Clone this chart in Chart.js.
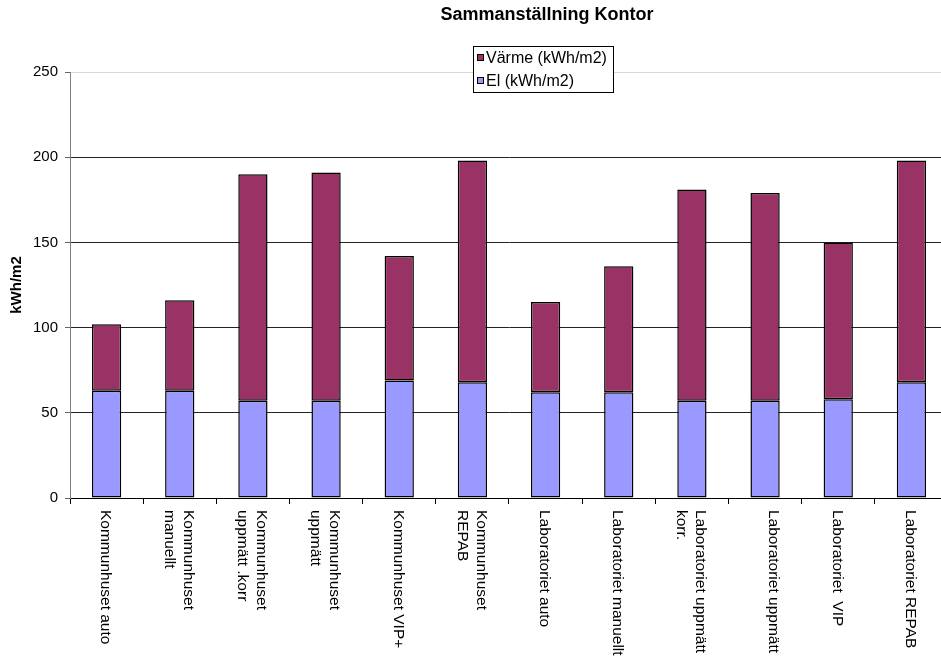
<!DOCTYPE html>
<html lang="sv">
<head>
  <meta charset="UTF-8" />
  <title>Sammanställning Kontor</title>
  <script src="https://cdn.jsdelivr.net/npm/chart.js"></script>
  <style>
    html, body {
      margin: 0;
      padding: 0;
      background: #fff;
      overflow: hidden;
    }
    #chart {
      display: block;
    }
  </style>
</head>
<body>
  <canvas id="chart" width="948" height="657"></canvas>

  <script>
    // category labels, one array entry per line of the wrapped label
    const categories = [
      ["Kommunhuset auto"],
      ["Kommunhuset", "manuellt"],
      ["Kommunhuset", "uppmätt .korr"],
      ["Kommunhuset", "uppmätt"],
      ["Kommunhuset VIP+"],
      ["Kommunhuset", "REPAB"],
      ["Laboratoriet auto"],
      ["Laboratoriet manuellt"],
      ["Laboratoriet uppmätt", "korr."],
      ["Laboratoriet uppmätt", " "],
      ["Laboratoriet  VIP"],
      ["Laboratoriet REPAB"]
    ];

    const elValues    = [63, 63, 57, 57, 69, 68, 62, 62, 57, 57, 58, 68];
    const varmeValues = [39, 53, 133, 134, 73, 130, 53, 74, 124, 122, 92, 130];

    const yTicks = [0, 50, 100, 150, 200, 250];

    const FONT = "'Liberation Sans', Arial, sans-serif";

    // title, boxed legend and the rotated category labels
    const decorations = {
      id: "decorations",
      afterDraw(chart) {
        const ctx = chart.ctx;
        const x = chart.scales.x;
        ctx.save();

        ctx.fillStyle = "#000";
        ctx.font = "bold 18px " + FONT;
        ctx.textAlign = "center";
        ctx.textBaseline = "middle";
        ctx.fillText("Sammanställning Kontor", 547, 15);

        // legend box
        ctx.fillStyle = "#fff";
        ctx.fillRect(473, 46, 141, 46);
        ctx.strokeStyle = "#000";
        ctx.lineWidth = 1;
        ctx.strokeRect(473.5, 46.5, 140, 46);

        const items = chart.data.datasets.slice().reverse();
        ctx.font = "16px " + FONT;
        ctx.textAlign = "left";
        items.forEach((ds, i) => {
          const cy = 58 + i * 23;
          ctx.fillStyle = ds.backgroundColor;
          ctx.fillRect(477, cy - 4, 7, 7);
          ctx.strokeStyle = "#000";
          ctx.strokeRect(477.5, cy - 3.5, 6, 6);
          ctx.fillStyle = "#000";
          ctx.fillText(ds.label, 486, cy + 1);
        });

        // x labels read top to bottom
        ctx.font = "15.5px " + FONT;
        ctx.textBaseline = "middle";
        categories.forEach((lines, i) => {
          const cx = x.getPixelForValue(i) - 1;
          ctx.save();
          ctx.translate(cx, 510);
          ctx.rotate(Math.PI / 2);
          lines.forEach((line, k) => {
            ctx.fillText(line, 0, (k - (lines.length - 1) / 2) * 19);
          });
          ctx.restore();
        });

        ctx.restore();
      }
    };

    new Chart(document.getElementById("chart"), {
      type: "bar",
      data: {
        labels: categories.map(l => l.join(" ")),
        datasets: [
          {
            label: "El (kWh/m2)",
            data: elValues,
            backgroundColor: "#9999FF",
            borderColor: "#000",
            borderWidth: 1.5,
            borderSkipped: false
          },
          {
            label: "Värme (kWh/m2)",
            data: varmeValues,
            backgroundColor: "#993366",
            borderColor: "#000",
            borderWidth: 1.5,
            borderSkipped: false
          }
        ]
      },
      options: {
        responsive: false,
        animation: false,
        barPercentage: 0.5,
        categoryPercentage: 0.8,
        layout: { padding: { top: 72, left: 0, right: 0, bottom: 0 } },
        scales: {
          x: {
            stacked: true,
            afterFit: s => { s.height = 159; },
            grid: {
              drawOnChartArea: false,
              drawTicks: true,
              tickLength: 6,
              color: "#000",
              offset: true
            },
            border: { color: "#000", width: 1 },
            ticks: { display: false }
          },
          y: {
            stacked: true,
            min: 0,
            max: 250,
            afterFit: s => { s.width = 70; },
            afterBuildTicks: s => { s.ticks = yTicks.map(v => ({ value: v })); },
            grid: {
              color: ctx => ctx.tick && ctx.tick.value === 250 ? "#d9d9d9" : "#222",
              tickColor: "#666",
              tickLength: 5
            },
            border: { color: "#808080", width: 1 },
            ticks: {
              color: "#000",
              padding: 7,
              font: { family: FONT, size: 15 }
            },
            title: {
              display: true,
              text: "kWh/m2",
              color: "#000",
              font: { family: FONT, size: 15, weight: "bold" },
              padding: { top: 8, bottom: 0 }
            }
          }
        },
        plugins: {
          legend: { display: false },
          tooltip: { enabled: false }
        }
      },
      plugins: [decorations]
    });
  </script>
</body>
</html>
